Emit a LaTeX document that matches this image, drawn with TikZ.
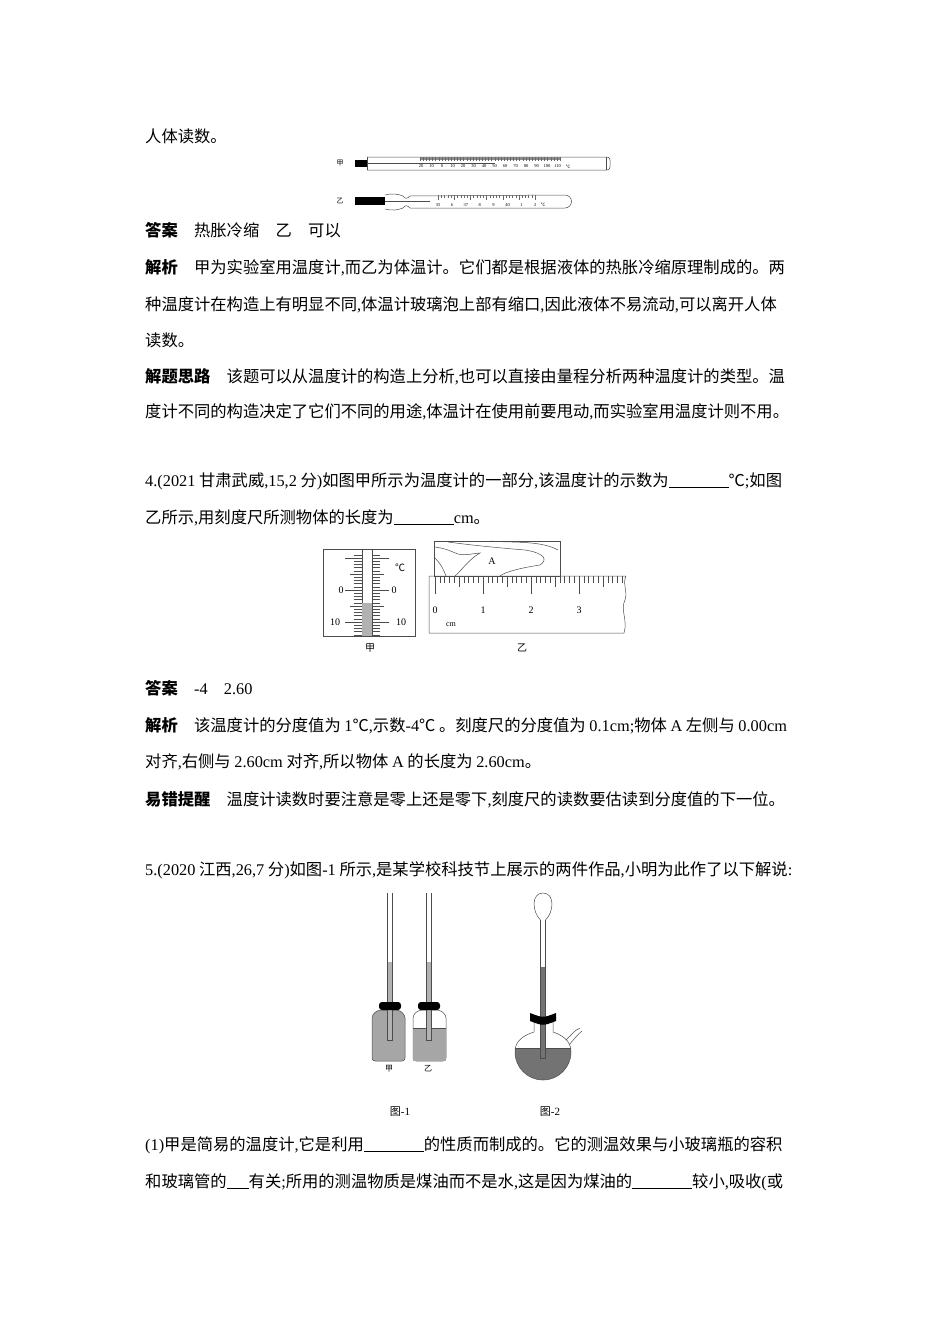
\documentclass[tikz,border=0pt]{standalone}
\usepackage{fontspec}
\setmainfont{Noto Sans CJK SC}
\newfontfamily\lat{Liberation Serif}
\XeTeXlinebreaklocale "zh"
\XeTeXlinebreakskip=0pt plus 1pt
\tikzset{
  txt/.style={anchor=base west, inner sep=0pt, font=\fontsize{16.3}{19}\selectfont},
  fullline/.style={txt, text width=660pt, align=justify},
  tiny/.style={inner sep=0pt, font=\lat\fontsize{4.5}{5}\selectfont},
  small/.style={inner sep=0pt, font=\fontsize{10}{11}\selectfont},
  glass/.style={draw=black!70, line width=0.5pt},
  liquid/.style={fill=black!35}
}
\newcommand{\blank}[1]{\underline{\hspace{#1}}}
\newcommand{\fillpar}{\parfillskip=0pt\relax}
\begin{document}
\begin{tikzpicture}[x=1pt,y=-1pt]
\useasboundingbox (0,0) rectangle (950,1344);
% text of first block
\node (l1) [txt] at (145,142) {人体读数。};
\node (ans1) [txt] at (145,236) {\textbf{答案}\quad 热胀冷缩\quad 乙\quad 可以};
\node (ex1a) [fullline] at (145,273) {\fillpar\textbf{解析}\quad 甲为实验室用温度计{\lat ,}而乙为体温计。它们都是根据液体的热胀冷缩原理制成的。两};
\node (ex1b) [fullline] at (145,310) {\fillpar 种温度计在构造上有明显不同{\lat ,}体温计玻璃泡上部有缩口{\lat ,}因此液体不易流动{\lat ,}可以离开人体};
\node (ex1c) [txt] at (145,346) {读数。};
\node (th1a) [fullline] at (145,382) {\fillpar\textbf{解题思路}\quad 该题可以从温度计的构造上分析{\lat ,}也可以直接由量程分析两种温度计的类型。温};
\node (th1b) [fullline] at (145,417) {\fillpar 度计不同的构造决定了它们不同的用途{\lat ,}体温计在使用前要甩动{\lat ,}而实验室用温度计则不用。};
% thermometers
\node (jia1) [small] at (340,163) {\fontsize{7}{8}\selectfont 甲};
\fill (355,160) rectangle (367,167);
\draw[glass, rounded corners=3pt] (367,157) -- (610,157) -- (610,170) -- (367,170);
\draw[glass] (367,157) -- (367,170);
\draw[glass] (606,157) -- (606,170);
\fill[black!45] (420,157) rectangle (560,160);
\draw[black!70, line width=0.8pt] (367,163) -- (495,163);
\foreach \i in {0,...,45} \draw[black!60, line width=0.2pt] ({420+\i*140/45},157) -- ++(0,4);
\foreach \v [count=\k from 0] in {20,10,0,10,20,30,40,50,60,70,80,90,100,110}
  \node[tiny] at ({421+\k*10.5},166.5) {\v};
\node[tiny, font=\fontsize{4.5}{5}\selectfont] at (568,166.5) {℃};
\node (yi1) [small] at (340,201) {\fontsize{7}{8}\selectfont 乙};
\fill (355,197) rectangle (385,205);
\draw[glass] (385,195) .. controls (392,193) and (398,194) .. (403,196) .. controls (405,199) and (407,199) .. (410,196)
  -- (565,195) arc (-90:90:6.5) -- (410,208) .. controls (407,205) and (405,205) .. (403,208) .. controls (398,210) and (392,211) .. (385,209);
\draw[black!70, line width=0.8pt] (385,201) -- (430,201);
\foreach \i in {0,...,30} \draw[black!60, line width=0.2pt] ({438+\i*97/30},195) -- ++(0,{mod(\i,5)==0 ? 5 : 3});
\foreach \v [count=\k from 0] in {35,6,37,8,9,40,1,2}
  \node[tiny] at ({438+\k*13.9},205) {\v};
\node[tiny, font=\fontsize{4.5}{5}\selectfont] at (543,205) {℃};
% question 4
\node (q4a) [fullline] at (145,486) {\fillpar{\lat 4.(2021} 甘肃武威{\lat ,15,2} 分{\lat )}如图甲所示为温度计的一部分{\lat ,}该温度计的示数为\blank{60pt}℃{\lat ;}如图};
\node (q4b) [txt] at (145,523) {乙所示{\lat ,}用刻度尺所测物体的长度为\blank{60pt}{\lat cm}。};
% thermometer box
\draw[glass] (323,549) rectangle (415,636);
\draw[glass] (362,549) -- (362,636);
\draw[glass] (372,549) -- (372,636);
\fill[black!30] (362.3,603) rectangle (371.7,636);
\foreach \i in {0,...,25} {
  \pgfmathsetmacro{\len}{mod(\i+9,10)==0 ? 17 : (mod(\i+9,5)==0 ? 12 : 8)}
  \draw[black!70, line width=0.35pt] (362,{554.8+\i*3.2}) -- ++(-\len,0);
  \draw[black!70, line width=0.35pt] (372,{554.8+\i*3.2}) -- ++(\len,0);
}
\node[small] at (341,590) {\lat 0};
\node[small] at (394,590) {\lat 0};
\node[small] at (335,622) {\lat 10};
\node[small] at (401,622) {\lat 10};
\node[small] at (400,568) {℃};
\node (jia2) [small] at (370,648) {甲};
% ruler and object
\draw[glass] (434,541) rectangle (560,576);
\draw[glass] (434,557) .. controls (442,565) and (444,571) .. (446,576);
\draw[glass] (434,547) .. controls (446,548) and (452,552) .. (458,554) .. controls (466,556) and (475,553) .. (480,553)
  .. controls (468,560) and (462,570) .. (455,576);
\draw[glass] (448,542) .. controls (470,545) and (500,548) .. (525,550) .. controls (545,553) and (548,560) .. (540,565)
  .. controls (520,568) and (505,572) .. (500,576);
\draw[glass] (490,541) .. controls (510,543) and (540,540) .. (558,550);
\node (objA) [small] at (492,561) {\lat A};
\draw[glass] (626,576) -- (429,576) -- (429,633) -- (624,633)
  .. controls (628,620) and (620,610) .. (625,600) .. controls (628,590) and (622,585) .. (626,576);
\foreach \i in {0,...,39} {
  \pgfmathsetmacro{\len}{mod(\i,10)==0 ? 18 : (mod(\i,5)==0 ? 11 : 7)}
  \draw[black!70, line width=0.35pt] ({435+\i*4.8},576) -- ++(0,\len);
}
\foreach \v in {0,1,2,3} \node[small] at ({435+\v*48},610) {\lat\v};
\node[small] at (451,625) {\lat\fontsize{8}{9}\selectfont cm};
\node (yi2) [small] at (522,648) {乙};
% answer block 2
\node (ans2) [txt] at (145,694) {\textbf{答案}\quad {\lat -4\quad 2.60}};
\node (ex2a) [fullline] at (145,731) {\fillpar\textbf{解析}\quad 该温度计的分度值为 {\lat 1}℃{\lat ,}示数{\lat -4}℃ 。刻度尺的分度值为 {\lat 0.1cm;}物体 {\lat A} 左侧与 {\lat 0.00cm}};
\node (ex2b) [txt] at (145,767) {对齐{\lat ,}右侧与 {\lat 2.60cm} 对齐{\lat ,}所以物体 {\lat A} 的长度为 {\lat 2.60cm}。};
\node (tip) [txt] at (145,805) {\textbf{易错提醒}\quad 温度计读数时要注意是零上还是零下{\lat ,}刻度尺的读数要估读到分度值的下一位。};
% question 5
\node (q5) [fullline] at (145,875) {\fillpar{\lat 5.(2020} 江西{\lat ,26,7} 分{\lat )}如图{\lat -1} 所示{\lat ,}是某学校科技节上展示的两件作品{\lat ,}小明为此作了以下解说{\lat :}};
% bottles
\draw[glass, liquid, rounded corners=3pt] (372,1061) -- (372,1015) -- (378,1010) -- (399,1010) -- (405,1015) -- (405,1061) -- cycle;
\draw[glass, rounded corners=3pt] (413,1061) -- (413,1015) -- (419,1010) -- (440,1010) -- (446,1015) -- (446,1061) -- cycle;
\fill[black!35] (413.3,1028) rectangle (445.7,1060.7);
\draw[glass] (413,1028) -- (446,1028);
\foreach \cx in {390,429} {
  \fill[black!30] (\cx-2.5,962) rectangle (\cx+2.5,1040);
  \draw[glass] (\cx-2.5,893) -- (\cx-2.5,1040) -- (\cx+2.5,1040) -- (\cx+2.5,893);
  \fill[rounded corners=3pt] (\cx-11,1002) rectangle (\cx+11,1010);
}
\node (jia3) [small] at (389,1069) {\fontsize{8}{9}\selectfont 甲};
\node (yi3) [small] at (428,1069) {\fontsize{8}{9}\selectfont 乙};
% flask
\begin{scope}
  \clip (510,1048) rectangle (576,1085);
  \fill[black!55] (534,1016) -- (534,1032) .. controls (518,1037) and (515,1045) .. (515,1052)
    arc (180:0:28) .. controls (571,1045) and (568,1037) .. (553,1032) -- (553,1016) -- cycle;
\end{scope}
\draw[glass] (534,1016) -- (534,1032) .. controls (518,1037) and (515,1045) .. (515,1052)
  arc (180:0:28) .. controls (571,1045) and (568,1037) .. (553,1032) -- (553,1016);
\draw[glass] (515,1048) -- (571,1048);
\draw[glass] (566,1040) .. controls (572,1034) and (575,1030) .. (580,1028);
\draw[glass] (569,1045) .. controls (575,1038) and (578,1034) .. (582,1031);
\fill[black!55] (540.5,967) rectangle (545.5,1058);
\draw[glass] (540.5,920) -- (540.5,1058) -- (545.5,1058) -- (545.5,920);
\draw[glass] (540.5,920) .. controls (532,912) and (531,893) .. (543,893) .. controls (555,893) and (554,912) .. (545.5,920);
\fill (530,1013) .. controls (543,1018) .. (556,1013) -- (556,1021) .. controls (543,1026) .. (530,1021) -- cycle;
\node (cap1) [small] at (400,1112) {\fontsize{11}{12}\selectfont 图{\lat -1}};
\node (cap2) [small] at (550,1112) {\fontsize{11}{12}\selectfont 图{\lat -2}};
% question 5 (1)
\node (p1a) [fullline] at (145,1150) {\fillpar{\lat (1)}甲是简易的温度计{\lat ,}它是利用\blank{60pt}的性质而制成的。它的测温效果与小玻璃瓶的容积};
\node (p1b) [fullline] at (145,1187) {\fillpar 和玻璃管的\blank{22pt}有关{\lat ;}所用的测温物质是煤油而不是水{\lat ,}这是因为煤油的\blank{60pt}较小{\lat ,}吸收{\lat (}或};
\end{tikzpicture}
\end{document}
